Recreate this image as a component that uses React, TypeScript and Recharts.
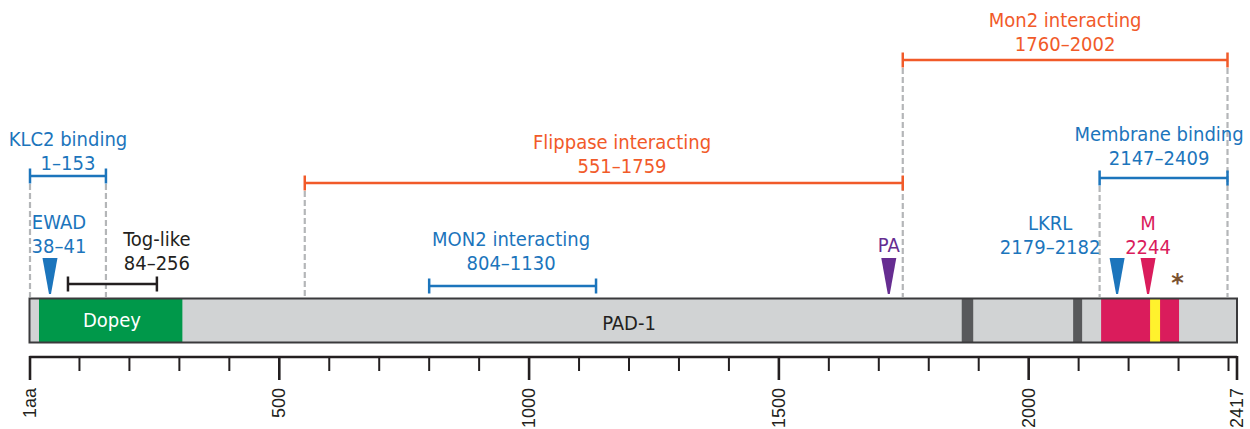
import React from "react";
import { ComposedChart, XAxis, YAxis, Scatter, ReferenceArea, ReferenceLine } from "recharts";

const PROTEIN_LENGTH = 2417;

// axis ticks (every 100 aa, majors labelled)
const axisTicks = [1, 100, 200, 300, 400, 500, 600, 700, 800, 900, 1000, 1100, 1200, 1300, 1400, 1500, 1600, 1700, 1800, 1900, 2000, 2100, 2200, 2300, 2400, 2417];
const majorTicks = [1, 500, 1000, 1500, 2000, 2417];
const majorTickLabels = ["1aa", "500", "1000", "1500", "2000", "2417"];

// coloured blocks inside the protein bar
const segmentKinds = ["dopey", "dark", "dark", "basic", "mutation"];
const segmentStarts = [19, 1866, 2089, 2145, 2243];
const segmentEnds = [306, 1889, 2107, 2301, 2263];

// bracketed regions above the bar
const regionNames = ["KLC2 binding", "Tog-like", "Flippase interacting", "MON2 interacting", "Mon2 interacting", "Membrane binding"];
const regionRanges = ["1–153", "84–256", "551–1759", "804–1130", "1760–2002", "2147–2409"];
const regionStarts = [1, 77, 551, 800, 1748, 2142];
const regionEnds = [153, 255, 1748, 1134, 2398, 2398];

// motifs marked with arrowheads
const motifNames = ["EWAD", "PA", "LKRL", "M"];
const motifRanges = ["38–41", "", "2179–2182", "2244"];
const motifPositions = [41, 1720, 2177, 2239];
const asteriskPosition = 2298;

const INK = "#231F20";
const BLUE = "#1C75BC";
const ORANGE = "#F15A29";
const PURPLE = "#662D91";
const CRIMSON = "#DA1C5C";
const DASH = "#B4B6B8";
const FONT = '"DejaVu Sans Condensed", "DejaVu Sans", sans-serif';
const FONT_SIZE = 20;
const LINE_GAP = 23.5;

const BAR_TOP = 298.5;
const BAR_BOTTOM = 342.5;

const segmentFill: Record<string, string> = {
  dopey: "#00984A",
  dark: "#58595B",
  basic: CRIMSON,
  mutation: "#FFF22D",
};

const regionLayout: Record<string, { lineY: number; textX: number; textY: number; color: string; dashStart: boolean; dashEnd: boolean }> = {
  "KLC2 binding": { lineY: 176, textX: 77, textY: 146, color: BLUE, dashStart: true, dashEnd: true },
  "Tog-like": { lineY: 284, textX: 255, textY: 246, color: INK, dashStart: false, dashEnd: false },
  "Flippase interacting": { lineY: 183, textX: 1186, textY: 149, color: ORANGE, dashStart: true, dashEnd: false },
  "MON2 interacting": { lineY: 286, textX: 964, textY: 246, color: BLUE, dashStart: false, dashEnd: false },
  "Mon2 interacting": { lineY: 60, textX: 2073, textY: 27, color: ORANGE, dashStart: true, dashEnd: true },
  "Membrane binding": { lineY: 178, textX: 2261, textY: 141, color: BLUE, dashStart: true, dashEnd: false },
};

const motifLayout: Record<string, { textX: number; textY: number; color: string }> = {
  EWAD: { textX: 59, textY: 229, color: BLUE },
  PA: { textX: 1720, textY: 252, color: PURPLE },
  LKRL: { textX: 2043, textY: 230, color: BLUE },
  M: { textX: 2239, textY: 230, color: CRIMSON },
};

const labelData = [
  ...regionNames.map((name, i) => ({
    x: regionLayout[name].textX,
    y: regionLayout[name].textY,
    lines: [name, regionRanges[i]],
    color: regionLayout[name].color,
  })),
  ...motifNames.map((name, i) => ({
    x: motifLayout[name].textX,
    y: motifLayout[name].textY,
    lines: motifRanges[i] ? [name, motifRanges[i]] : [name],
    color: motifLayout[name].color,
  })),
  { x: 165, y: 327, lines: ["Dopey"], color: "#FFFFFF" },
  { x: 1200, y: 330, lines: ["PAD-1"], color: INK },
];

const arrowData = motifNames.map((name, i) => ({ x: motifPositions[i], y: 294, color: motifLayout[name].color }));

const LabelShape = (props: any) => {
  const { cx, cy, payload } = props;
  return (
    <text x={cx} y={cy} textAnchor="middle" fill={payload.color} fontFamily={FONT} fontSize={FONT_SIZE}>
      {payload.lines.map((l: string, i: number) => (
        <tspan key={i} x={cx} dy={i === 0 ? 0 : LINE_GAP}>
          {l}
        </tspan>
      ))}
    </text>
  );
};

const ArrowShape = (props: any) => {
  const { cx, cy, payload } = props;
  return <path d={`M${cx - 7.5},${cy - 36} L${cx + 7.5},${cy - 36} L${cx + 1},${cy} L${cx - 1},${cy} Z`} fill={payload.color} />;
};

const StarShape = (props: any) => {
  const { cx, cy } = props;
  return (
    <text x={cx} y={cy + 13} textAnchor="middle" fill="#7A5230" fontFamily="DejaVu Sans, sans-serif" fontWeight="bold" fontSize={24}>
      *
    </text>
  );
};

const AxisTick = (props: any) => {
  const { x, y, payload } = props;
  const idx = majorTicks.indexOf(payload.value);
  const major = idx >= 0;
  return (
    <g>
      <line x1={x} x2={x} y1={y - 1} y2={y + (major ? 23 : 14)} stroke={INK} strokeWidth={major ? 2.6 : 2} />
      {major && (
        <text
          transform={`translate(${x + 6},${y + 31}) rotate(-90)`}
          textAnchor="end"
          fontFamily='"Liberation Sans", Arial, sans-serif'
          fontSize={18}
          fill={INK}
        >
          {majorTickLabels[idx]}
        </text>
      )}
    </g>
  );
};

export default function App() {
  return (
    <div style={{ position: "absolute", left: 0, top: 0, background: "#fff" }}>
      <ComposedChart width={1250} height={429} margin={{ top: 0, right: 13, bottom: 0, left: 29.5 }}>
        <XAxis
          type="number"
          dataKey="x"
          domain={[0, PROTEIN_LENGTH]}
          ticks={axisTicks}
          interval={0}
          height={72}
          tickSize={0}
          tickMargin={0}
          tickLine={false}
          axisLine={{ stroke: INK, strokeWidth: 2.4 }}
          tick={(p: any) => <AxisTick {...p} />}
        />
        <YAxis type="number" dataKey="y" domain={[0, 357]} reversed hide />

        {/* dashed guides */}
        {regionNames.flatMap((name, i) => {
          const l = regionLayout[name];
          const out: React.ReactNode[] = [];
          if (l.dashStart)
            out.push(
              <ReferenceLine key={`ds${i}`} segment={[{ x: regionStarts[i], y: l.lineY + 8 }, { x: regionStarts[i], y: 297 }]} stroke={DASH} strokeWidth={2.2} strokeDasharray="6 3" />
            );
          if (l.dashEnd)
            out.push(
              <ReferenceLine key={`de${i}`} segment={[{ x: regionEnds[i], y: l.lineY + 8 }, { x: regionEnds[i], y: 297 }]} stroke={DASH} strokeWidth={2.2} strokeDasharray="6 3" />
            );
          return out;
        })}

        {/* protein bar */}
        <ReferenceArea x1={0} x2={PROTEIN_LENGTH} y1={BAR_TOP} y2={BAR_BOTTOM} fill="#D1D3D4" fillOpacity={1} stroke="none" />
        {segmentKinds.map((k, i) => (
          <ReferenceArea key={`seg${i}`} x1={segmentStarts[i]} x2={segmentEnds[i]} y1={BAR_TOP} y2={BAR_BOTTOM} fill={segmentFill[k]} fillOpacity={1} stroke="none" />
        ))}
        <ReferenceArea x1={0} x2={PROTEIN_LENGTH} y1={BAR_TOP} y2={BAR_BOTTOM} fill="none" fillOpacity={0} stroke="#3A3A3C" strokeWidth={2} />

        {/* brackets */}
        {regionNames.flatMap((name, i) => {
          const l = regionLayout[name];
          return [
            <ReferenceLine key={`h${i}`} segment={[{ x: regionStarts[i], y: l.lineY }, { x: regionEnds[i], y: l.lineY }]} stroke={l.color} strokeWidth={2.5} />,
            <ReferenceLine key={`cs${i}`} segment={[{ x: regionStarts[i], y: l.lineY - 7.5 }, { x: regionStarts[i], y: l.lineY + 7.5 }]} stroke={l.color} strokeWidth={2.5} />,
            <ReferenceLine key={`ce${i}`} segment={[{ x: regionEnds[i], y: l.lineY - 7.5 }, { x: regionEnds[i], y: l.lineY + 7.5 }]} stroke={l.color} strokeWidth={2.5} />,
          ];
        })}

        <Scatter data={arrowData} shape={ArrowShape} isAnimationActive={false} />
        <Scatter data={[{ x: asteriskPosition, y: 278 }]} shape={StarShape} isAnimationActive={false} />
        <Scatter data={labelData} shape={LabelShape} isAnimationActive={false} />
      </ComposedChart>
    </div>
  );
}
